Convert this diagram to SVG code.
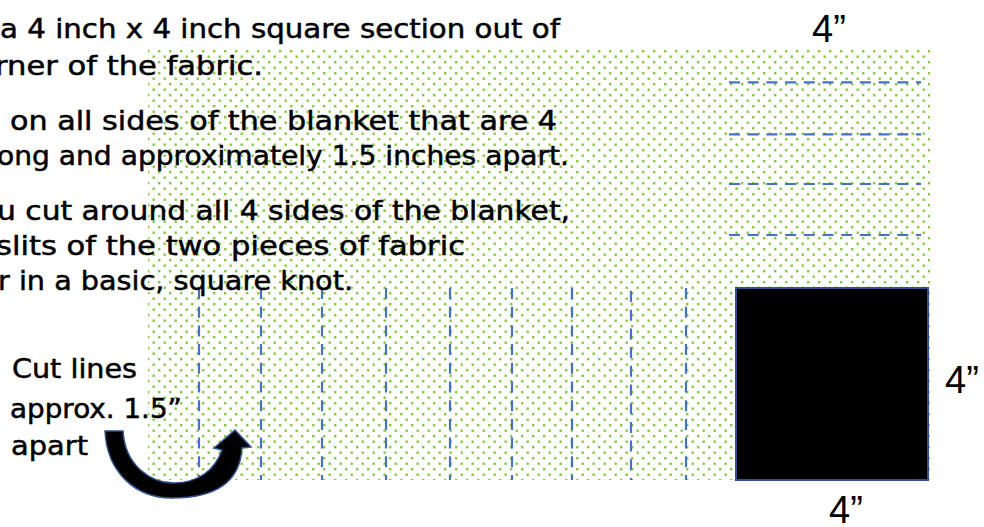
<svg xmlns="http://www.w3.org/2000/svg" width="984" height="527" viewBox="0 0 984 527">
<style>
.body{font-family:"DejaVu Sans","Noto Sans",sans-serif;font-size:26px;fill:#000;stroke:#000;stroke-width:0.5}
.dim{font-family:"Liberation Sans",Arial,sans-serif;font-size:38px;fill:#000}
.cut{stroke:#4472C4;stroke-width:2.2;stroke-dasharray:11 7.7;fill:none}
.dot{fill:#86C843}
</style>
<defs>
<pattern id="dots" patternUnits="userSpaceOnUse" x="686" y="50" width="11" height="11">
<rect class="dot" x="0" y="0" width="2.4" height="2.4"/>
<rect class="dot" x="5.5" y="5.5" width="2.4" height="2.4"/>
</pattern>
</defs>
<rect width="984" height="527" fill="#fff"/>
<g id="fabric">
<rect x="148" y="50" width="782" height="430" fill="url(#dots)"/>
</g>
<g id="cut-lines">
<line class="cut" x1="729" y1="82.3" x2="921" y2="82.3"/>
<line class="cut" x1="729" y1="134.3" x2="921" y2="134.3"/>
<line class="cut" x1="729" y1="184" x2="921" y2="184"/>
<line class="cut" x1="729" y1="235" x2="921" y2="235"/>
<line class="cut" x1="199" y1="288" x2="199" y2="480"/>
<line class="cut" x1="261" y1="288" x2="261" y2="480"/>
<line class="cut" x1="322" y1="288" x2="322" y2="480"/>
<line class="cut" x1="386" y1="288" x2="386" y2="480"/>
<line class="cut" x1="450" y1="288" x2="450" y2="480"/>
<line class="cut" x1="512" y1="288" x2="512" y2="480"/>
<line class="cut" x1="572" y1="288" x2="572" y2="480"/>
<line class="cut" x1="631" y1="291" x2="631" y2="480"/>
<line class="cut" x1="686" y1="288" x2="686" y2="480"/>
</g>
<g id="cut-square">
<rect x="736" y="288" width="192" height="192" fill="#000" stroke="#2F528F" stroke-width="2"/>
</g>
<g id="instructions">
<text class="body" x="0" y="38" textLength="560" lengthAdjust="spacingAndGlyphs">a 4 inch x 4 inch square section out of</text>
<text class="body" x="-5" y="75" textLength="268" lengthAdjust="spacingAndGlyphs">rner of the fabric.</text>
<text class="body" x="10" y="130" textLength="547" lengthAdjust="spacingAndGlyphs">on all sides of the blanket that are 4</text>
<text class="body" x="-3" y="165" textLength="572" lengthAdjust="spacingAndGlyphs">ong and approximately 1.5 inches apart.</text>
<text class="body" x="-3" y="220" textLength="573" lengthAdjust="spacingAndGlyphs">u cut around all 4 sides of the blanket,</text>
<text class="body" x="-4" y="255" textLength="469" lengthAdjust="spacingAndGlyphs">slits of the two pieces of fabric</text>
<text class="body" x="-2" y="290" textLength="355" lengthAdjust="spacingAndGlyphs">r in a basic, square knot.</text>
</g>
<g id="cut-label">
<text class="body" x="12" y="378" textLength="125" lengthAdjust="spacingAndGlyphs">Cut lines</text>
<text class="body" x="10" y="418" textLength="172" lengthAdjust="spacingAndGlyphs">approx. 1.5”</text>
<text class="body" x="11" y="455" textLength="77" lengthAdjust="spacingAndGlyphs">apart</text>
</g>
<g id="dimensions">
<text class="dim" x="812" y="42">4”</text>
<text class="dim" x="945" y="393">4”</text>
<text class="dim" x="829" y="523">4”</text>
</g>
<g id="connectors">
<path d="M105,431 C107,472 135,498 172,498 C215,498 240,482 242,448 L251,447 L235,430 L214,448 L222,450 C215,470 198,483 174,483 C150,483 125,465 123,431 Z" fill="#000" stroke="#2F528F" stroke-width="1.5" stroke-linejoin="miter"/>
</g>
</svg>
